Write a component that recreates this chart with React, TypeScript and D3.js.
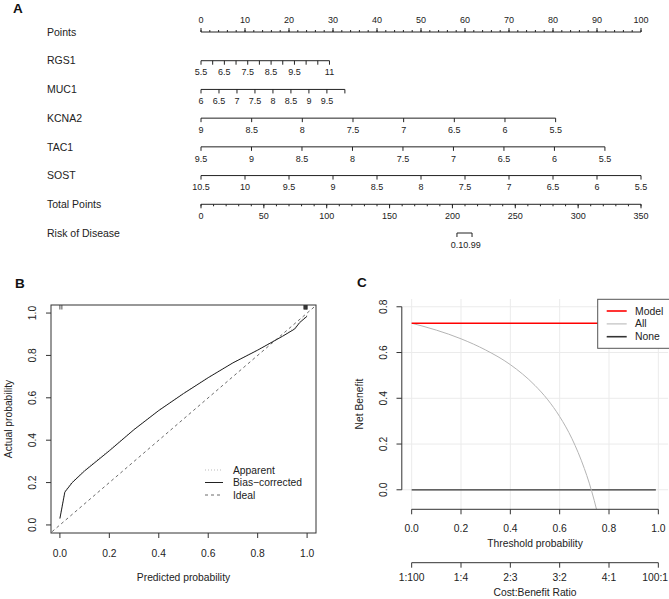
import React, { useRef, useEffect } from "react";
import * as d3 from "d3";

const W = 669;
const H = 599;
const FONT = "'Liberation Sans', Arial, Helvetica, sans-serif";
const INK = "#222";

// ---- A: nomogram ----
const rowNames = ["Points", "RGS1", "MUC1", "KCNA2", "TAC1", "SOST", "Total Points", "Risk of Disease"];
const pointsMajor = [0, 10, 20, 30, 40, 50, 60, 70, 80, 90, 100];
const pointsMinor = d3.range(0, 101, 2);

const rgs1Ticks = [5.5, 6, 6.5, 7, 7.5, 8, 8.5, 9, 9.5, 10, 10.5, 11];
const rgs1Labels = [5.5, 6.5, 7.5, 8.5, 9.5, 11];
const rgs1Points = [0, 29.2];

const muc1Ticks = [6, 6.5, 7, 7.5, 8, 8.5, 9, 9.5, 10];
const muc1Labels = [6, 6.5, 7, 7.5, 8, 8.5, 9, 9.5];
const muc1Points = [0, 32.7];

const kcna2Ticks = [9, 8.5, 8, 7.5, 7, 6.5, 6, 5.5];
const kcna2Labels = [9, 8.5, 8, 7.5, 7, 6.5, 6, 5.5];
const kcna2Points = [0, 80.6];

const tac1Ticks = [9.5, 9, 8.5, 8, 7.5, 7, 6.5, 6, 5.5];
const tac1Labels = [9.5, 9, 8.5, 8, 7.5, 7, 6.5, 6, 5.5];
const tac1Points = [0, 91.8];

const sostTicks = [10.5, 10, 9.5, 9, 8.5, 8, 7.5, 7, 6.5, 6, 5.5];
const sostLabels = [10.5, 10, 9.5, 9, 8.5, 8, 7.5, 7, 6.5, 6, 5.5];
const sostPoints = [0, 100];

const totalMajor = [0, 50, 100, 150, 200, 250, 300, 350];
const totalMinor = d3.range(0, 351, 10);

const riskTicks = [0.1, 0.99];
const riskTotalPoints = [203.6, 215.6];

// ---- B: calibration ----
const calPred = [0, 0.02, 0.05, 0.1, 0.2, 0.3, 0.4, 0.5, 0.6, 0.7, 0.8, 0.9, 0.95, 0.97, 1.0];
const calBias = [0.03, 0.155, 0.2, 0.255, 0.35, 0.45, 0.54, 0.62, 0.695, 0.765, 0.825, 0.89, 0.925, 0.955, 0.985];
const calApparent = [0.035, 0.16, 0.205, 0.26, 0.355, 0.452, 0.542, 0.622, 0.697, 0.766, 0.826, 0.892, 0.93, 0.96, 0.99];
const rugLow = [0.0, 0.008];
const rugHigh = [0.987, 0.989, 0.991, 0.993, 0.995, 0.997, 0.999, 1.0];
const idealLine = [-0.05, 1.05];
const calTicks = [0, 0.2, 0.4, 0.6, 0.8, 1.0];
const calLegend = ["Apparent", "Bias\u2212corrected", "Ideal"];

// ---- C: decision curve ----
const dcaTicks = [0, 0.2, 0.4, 0.6, 0.8, 1.0];
const dcaYTicks = [0, 0.2, 0.4, 0.6, 0.8];
const costBenefit = ["1:100", "1:4", "2:3", "3:2", "4:1", "100:1"];
const modelThr = [0, 0.99];
const modelNB = [0.728, 0.728];
const allThr = [0, 0.1, 0.2, 0.3, 0.4, 0.5, 0.55, 0.6, 0.65, 0.7, 0.72, 0.74, 0.75, 0.76];
const allNB = [0.728, 0.698, 0.66, 0.611, 0.547, 0.456, 0.396, 0.32, 0.223, 0.093, 0.029, -0.046, -0.088, -0.133];
const noneThr = [0, 0.99];
const noneNB = [0, 0];
const dcaLegend = ["Model", "All", "None"];
const dcaColors = ["#ff0000", "#c8c8c8", "#333333"];

type Sel = d3.Selection<SVGGElement, unknown, null, undefined>;

function txt(g: Sel, x: number, y: number, s: string, size: number, anchor = "middle") {
  return g
    .append("text")
    .attr("x", x)
    .attr("y", y)
    .attr("dy", "0.35em")
    .attr("text-anchor", anchor)
    .attr("font-size", size)
    .attr("fill", INK)
    .text(s);
}

function drawNomogram(g: Sel) {
  const px = d3.scaleLinear().domain([0, 100]).range([201, 641]);
  const rowY = d3.scaleLinear().domain([0, 7]).range([32, 233]);

  rowNames.forEach((n, i) => txt(g, 47, rowY(i), n, 10.5, "start"));

  // points axis, labels on top
  const y0 = rowY(0);
  g.append("line").attr("x1", px(0)).attr("x2", px(100)).attr("y1", y0).attr("y2", y0).attr("stroke", INK);
  g.selectAll(".pmin")
    .data(pointsMinor)
    .join("line")
    .attr("x1", (d) => px(d))
    .attr("x2", (d) => px(d))
    .attr("y1", y0)
    .attr("y2", y0 - 2)
    .attr("stroke", INK);
  g.selectAll(".pmaj")
    .data(pointsMajor)
    .join("line")
    .attr("x1", (d) => px(d))
    .attr("x2", (d) => px(d))
    .attr("y1", y0)
    .attr("y2", y0 - 4)
    .attr("stroke", INK);
  pointsMajor.forEach((d) => txt(g, px(d), y0 - 12, String(d), 9));

  const varAxis = (row: number, ticks: number[], labels: number[], pts: number[]) => {
    const y = rowY(row);
    const v = d3
      .scaleLinear()
      .domain([ticks[0], ticks[ticks.length - 1]])
      .range([px(pts[0]), px(pts[1])]);
    g.append("line")
      .attr("x1", v(ticks[0]))
      .attr("x2", v(ticks[ticks.length - 1]))
      .attr("y1", y)
      .attr("y2", y)
      .attr("stroke", INK);
    ticks.forEach((t) =>
      g.append("line").attr("x1", v(t)).attr("x2", v(t)).attr("y1", y).attr("y2", y + 4).attr("stroke", INK)
    );
    labels.forEach((t) => txt(g, v(t), y + 11.5, String(t), 9));
  };
  varAxis(1, rgs1Ticks, rgs1Labels, rgs1Points);
  varAxis(2, muc1Ticks, muc1Labels, muc1Points);
  varAxis(3, kcna2Ticks, kcna2Labels, kcna2Points);
  varAxis(4, tac1Ticks, tac1Labels, tac1Points);
  varAxis(5, sostTicks, sostLabels, sostPoints);

  // total points
  const tp = d3.scaleLinear().domain([0, 350]).range([201, 641]);
  const yt = rowY(6);
  g.append("line").attr("x1", tp(0)).attr("x2", tp(350)).attr("y1", yt).attr("y2", yt).attr("stroke", INK);
  totalMinor.forEach((t) =>
    g.append("line").attr("x1", tp(t)).attr("x2", tp(t)).attr("y1", yt).attr("y2", yt + 2).attr("stroke", INK)
  );
  totalMajor.forEach((t) => {
    g.append("line").attr("x1", tp(t)).attr("x2", tp(t)).attr("y1", yt).attr("y2", yt + 4).attr("stroke", INK);
    txt(g, tp(t), yt + 11.5, String(t), 9);
  });

  // risk
  const yr = rowY(7);
  const rx = riskTotalPoints.map((p) => tp(p));
  g.append("line").attr("x1", rx[0]).attr("x2", rx[1]).attr("y1", yr).attr("y2", yr).attr("stroke", INK);
  riskTicks.forEach((r, i) => {
    g.append("line").attr("x1", rx[i]).attr("x2", rx[i]).attr("y1", yr).attr("y2", yr + 4).attr("stroke", INK);
    txt(g, rx[i], yr + 11.5, String(r), 9);
  });
}

function drawCalibration(g: Sel) {
  const x = d3.scaleLinear().domain([-0.036, 1.036]).range([51, 316]);
  const y = d3.scaleLinear().domain([-0.038, 1.038]).range([533, 305]);

  g.append("clipPath").attr("id", "clipB").append("rect").attr("x", 51).attr("y", 305).attr("width", 265).attr("height", 228);

  const line = d3
    .line<number[]>()
    .x((d) => x(d[0]))
    .y((d) => y(d[1]));

  const plot = g.append("g").attr("clip-path", "url(#clipB)");
  plot.append("path")
    .attr("d", line(idealLine.map((v) => [v, v])))
    .attr("fill", "none")
    .attr("stroke", "#444")
    .attr("stroke-width", 0.8)
    .attr("stroke-dasharray", "3,3");
  plot.append("path")
    .attr("d", line(calPred.map((p, i) => [p, calApparent[i]])))
    .attr("fill", "none")
    .attr("stroke", "#aaa")
    .attr("stroke-width", 0.8)
    .attr("stroke-dasharray", "1,2");
  plot.append("path")
    .attr("d", line(calPred.map((p, i) => [p, calBias[i]])))
    .attr("fill", "none")
    .attr("stroke", "#222")
    .attr("stroke-width", 1);

  // risk distribution rug along top
  [...rugLow, ...rugHigh].forEach((r) =>
    plot.append("line").attr("x1", x(r)).attr("x2", x(r)).attr("y1", 305).attr("y2", 309.5).attr("stroke", "#222").attr("stroke-width", 0.8)
  );

  g.append("rect").attr("x", 51).attr("y", 305).attr("width", 265).attr("height", 228).attr("fill", "none").attr("stroke", "#333");

  calTicks.forEach((t) => {
    g.append("line").attr("x1", x(t)).attr("x2", x(t)).attr("y1", 533).attr("y2", 538).attr("stroke", "#333");
    txt(g, x(t), 553, d3.format(".1f")(t), 10.3);
    g.append("line").attr("x1", 51).attr("x2", 46).attr("y1", y(t)).attr("y2", y(t)).attr("stroke", "#333");
    txt(g, 0, 0, d3.format(".1f")(t), 10.3).attr("transform", `translate(32,${y(t)}) rotate(-90)`);
  });
  txt(g, 183.5, 577, "Predicted probability", 10.3);
  txt(g, 0, 0, "Actual probability", 10.3).attr("transform", `translate(8,419) rotate(-90)`);

  // legend
  const ly = d3.scaleLinear().domain([0, 2]).range([470, 495]);
  const styles = [
    { c: "#aaa", dash: "1,2", w: 0.8 },
    { c: "#222", dash: null, w: 1 },
    { c: "#444", dash: "3,3", w: 0.8 },
  ];
  calLegend.forEach((s, i) => {
    g.append("line")
      .attr("x1", 205)
      .attr("x2", 223)
      .attr("y1", ly(i))
      .attr("y2", ly(i))
      .attr("stroke", styles[i].c)
      .attr("stroke-width", styles[i].w)
      .attr("stroke-dasharray", styles[i].dash);
    txt(g, 233, ly(i), s, 10.3, "start");
  });
}

function drawDecision(g: Sel) {
  const x = d3.scaleLinear().domain([-0.04, 1.04]).range([401.8, 668.2]);
  const y = d3.scaleLinear().domain([-0.084, 0.834]).range([509, 299]);

  // grid
  dcaTicks.forEach((t) =>
    g.append("line").attr("x1", x(t)).attr("x2", x(t)).attr("y1", 299).attr("y2", 509).attr("stroke", "#ebebeb")
  );
  dcaYTicks.forEach((t) =>
    g.append("line").attr("x1", 401.8).attr("x2", 668.2).attr("y1", y(t)).attr("y2", y(t)).attr("stroke", "#ebebeb")
  );

  g.append("clipPath").attr("id", "clipC").append("rect").attr("x", 401.8).attr("y", 299).attr("width", 266.4).attr("height", 210);
  const plot = g.append("g").attr("clip-path", "url(#clipC)");
  const line = d3
    .line<number[]>()
    .x((d) => x(d[0]))
    .y((d) => y(d[1]))
    .curve(d3.curveMonotoneX);

  plot.append("path")
    .attr("d", line(noneThr.map((t, i) => [t, noneNB[i]])))
    .attr("fill", "none")
    .attr("stroke", dcaColors[2])
    .attr("stroke-width", 1.2);
  plot.append("path")
    .attr("d", line(allThr.map((t, i) => [t, allNB[i]])))
    .attr("fill", "none")
    .attr("stroke", "#b4b4b4")
    .attr("stroke-width", 1);
  plot.append("path")
    .attr("d", line(modelThr.map((t, i) => [t, modelNB[i]])))
    .attr("fill", "none")
    .attr("stroke", dcaColors[0])
    .attr("stroke-width", 1.6);

  // y axis
  g.append("line").attr("x1", 401.8).attr("x2", 401.8).attr("y1", y(0)).attr("y2", y(0.8)).attr("stroke", "#333");
  dcaYTicks.forEach((t) => {
    g.append("line").attr("x1", 401.8).attr("x2", 396.5).attr("y1", y(t)).attr("y2", y(t)).attr("stroke", "#333");
    txt(g, 0, 0, d3.format(".1f")(t), 10.3).attr("transform", `translate(383,${y(t)}) rotate(-90)`);
  });
  txt(g, 0, 0, "Net Benefit", 10.3).attr("transform", `translate(359,404) rotate(-90)`);

  // threshold axis
  const xa = 509.3;
  g.append("line").attr("x1", x(0)).attr("x2", x(1)).attr("y1", xa).attr("y2", xa).attr("stroke", "#333");
  dcaTicks.forEach((t) => {
    g.append("line").attr("x1", x(t)).attr("x2", x(t)).attr("y1", xa).attr("y2", xa + 5).attr("stroke", "#333");
    txt(g, x(t), 528, d3.format(".1f")(t), 10.3);
  });
  txt(g, x(0.5), 543, "Threshold probability", 10.3);

  // cost:benefit axis
  const ca = 562.7;
  g.append("line").attr("x1", x(0)).attr("x2", x(1)).attr("y1", ca).attr("y2", ca).attr("stroke", "#333");
  dcaTicks.forEach((t, i) => {
    g.append("line").attr("x1", x(t)).attr("x2", x(t)).attr("y1", ca).attr("y2", ca + 5).attr("stroke", "#333");
    const lab = txt(g, x(t), 577, costBenefit[i], 10.3);
    // keep the last label inside the right edge
    const w = (lab.node() as SVGTextElement).getComputedTextLength();
    if (x(t) + w / 2 > W - 1) lab.attr("x", W - 1 - w / 2);
  });
  txt(g, x(0.5), 592, "Cost:Benefit Ratio", 10.3);

  // legend
  g.append("rect").attr("x", 597.7).attr("y", 299.3).attr("width", 90).attr("height", 49).attr("fill", "#fff").attr("stroke", "#555");
  const ly = d3.scaleLinear().domain([0, 2]).range([311, 336.7]);
  dcaLegend.forEach((s, i) => {
    g.append("line")
      .attr("x1", 606.7)
      .attr("x2", 626.7)
      .attr("y1", ly(i))
      .attr("y2", ly(i))
      .attr("stroke", i === 1 ? "#d0d0d0" : dcaColors[i])
      .attr("stroke-width", 1.6);
    txt(g, 635, ly(i), s, 10.4, "start");
  });
}

const App = () => {
  const svgRef = useRef<SVGSVGElement>(null);

  useEffect(() => {
    const svg = d3.select(svgRef.current);
    svg.selectAll("*").remove();

    const label = (x: number, y: number, s: string) =>
      svg.append("text").attr("x", x).attr("y", y).attr("font-size", 13.5).attr("font-weight", "bold").attr("fill", "#111").text(s);
    label(13, 13, "A");
    label(15, 288, "B");
    label(357, 287, "C");

    drawNomogram(svg.append("g") as unknown as Sel);
    drawCalibration(svg.append("g") as unknown as Sel);
    drawDecision(svg.append("g") as unknown as Sel);
  }, []);

  return (
    <div style={{ position: "absolute", left: 0, top: 0 }}>
      <svg ref={svgRef} width={W} height={H} fontFamily={FONT} style={{ display: "block", background: "#fff" }} />
    </div>
  );
};

export default App;
